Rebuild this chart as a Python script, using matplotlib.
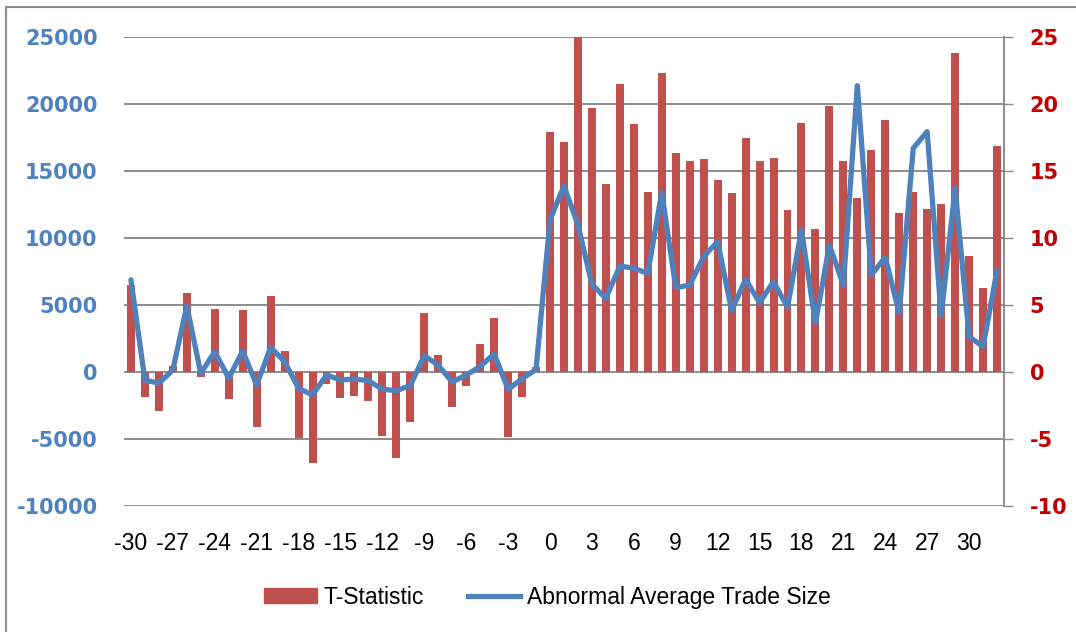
#!/usr/bin/env python3
"""
Abnormal average trade size vs T-statistic around the event day.

Bars: T-Statistic (right axis), line: Abnormal Average Trade Size (left axis).
"""

import matplotlib
matplotlib.use("Agg")
import matplotlib.pyplot as plt
import matplotlib.patches as mpatches

# Event days -30 .. 32
days = list(range(-30, 33))

# T-statistic per day (right axis)
t_stat = [
	6.49, -1.84, -2.89, 0.45, 5.87, -0.35, 4.68, -2.04, 4.63, -4.13,
	5.70, 1.57, -4.93, -6.82, -0.90, -1.94, -1.79, -2.16, -4.75, -6.42,
	-3.71, 4.38, 1.27, -2.59, -1.04, 2.06, 4.00, -4.88, -1.84, 0.40,
	17.94, 17.19, 24.98, 19.68, 14.03, 21.47, 18.48, 13.41, 22.29, 16.32,
	15.77, 15.92, 14.33, 13.33, 17.44, 15.77, 15.95, 12.06, 18.61, 10.70,
	19.88, 15.75, 12.96, 16.59, 18.81, 11.87, 13.43, 12.19, 12.54, 23.81,
	8.63, 6.27, 16.84,
]

# Abnormal average trade size per day (left axis)
trade_size = [
	6870, -600, -850, 150, 4930, -100, 1520, -470, 1570, -970,
	1840, 770, -1220, -1720, -220, -600, -520, -650, -1290, -1390,
	-1020, 1230, 500, -750, -220, 400, 1360, -1300, -500, 180,
	11340, 13900, 10970, 6540, 5500, 7910, 7740, 7360, 13410, 6290,
	6490, 8610, 9730, 4580, 6920, 5170, 6740, 4830, 10600, 3630,
	9480, 6490, 21370, 7240, 8560, 4380, 16690, 17940, 4180, 13710,
	2640, 1890, 7560,
]

# Axis ticks
left_ticks = [-10000, -5000, 0, 5000, 10000, 15000, 20000, 25000]
right_ticks = [-10, -5, 0, 5, 10, 15, 20, 25]
x_ticks = list(range(-30, 31, 3))

BAR_COLOR = "#C0504D"
LINE_COLOR = "#4F81BD"
GRID_COLOR = "#8C8C8C"

plt.rcParams["axes.unicode_minus"] = False


def main():
	fig = plt.figure(figsize=(10.76, 6.32), dpi=100)
	ax = fig.add_axes([0.1152, 0.1994, 0.8179, 0.7421])
	ax2 = ax.twinx()

	# Bars on the right (T-statistic) axis, with gridlines behind them
	ax2.bar(days, t_stat, width=0.57, color=BAR_COLOR, zorder=2)
	ax2.set_ylim(-10, 25)
	ax2.set_yticks(right_ticks)
	ax2.grid(axis="y", color=GRID_COLOR, linewidth=1.4, zorder=0)
	ax2.set_axisbelow(True)

	# Line on the left axis, drawn above the bars
	ax.plot(days, trade_size, color=LINE_COLOR, linewidth=3.8,
			solid_joinstyle="round", solid_capstyle="round", zorder=3)
	ax.set_ylim(-10000, 25000)
	ax.set_yticks(left_ticks)
	ax.set_zorder(ax2.get_zorder() + 1)
	ax.patch.set_visible(False)

	ax.set_xlim(-30.5, 32.5)
	ax.set_xticks(x_ticks)
	ax.set_xticklabels([str(t) for t in x_ticks], fontsize=16.5,
					   family="Liberation Sans")
	ax.tick_params(axis="x", length=0, pad=19)

	ax.tick_params(axis="y", length=0, pad=19, labelcolor=LINE_COLOR)
	for lbl in ax.get_yticklabels():
		lbl.set_fontsize(15)
		lbl.set_fontweight("bold")

	ax2.tick_params(axis="y", length=6.5, width=1, color=GRID_COLOR,
					pad=12, labelcolor="#C00000")
	for lbl in ax2.get_yticklabels():
		lbl.set_fontsize(15)
		lbl.set_fontweight("bold")

	for s in ax.spines.values():
		s.set_visible(False)
	for name, s in ax2.spines.items():
		s.set_visible(name == "right")
	ax2.spines["right"].set_color(GRID_COLOR)
	ax2.spines["right"].set_linewidth(1.4)

	# Legend below the chart
	bar_patch = mpatches.Patch(color=BAR_COLOR, label="T-Statistic")
	line_handle = plt.Line2D([], [], color=LINE_COLOR, linewidth=3.8,
							 label="Abnormal Average Trade Size")
	fig.legend(handles=[bar_patch, line_handle], loc="center",
			   bbox_to_anchor=(0.509, 0.055), ncol=2, frameon=False,
			   prop={"family": "Liberation Sans", "size": 16.5},
			   handlelength=2.3, handleheight=0.65, handletextpad=0.3,
			   columnspacing=1.9)

	# Chart-area border (cropped at right and bottom in the original)
	border = mpatches.Rectangle((6 / 1076, -0.1), 2.0, 1 - 7 / 632 + 0.1,
								transform=fig.transFigure, fill=False,
								edgecolor=GRID_COLOR, linewidth=1.5)
	fig.patches.append(border)

	fig.savefig("out.png", dpi=100)
	plt.close(fig)


if __name__ == "__main__":
	main()
